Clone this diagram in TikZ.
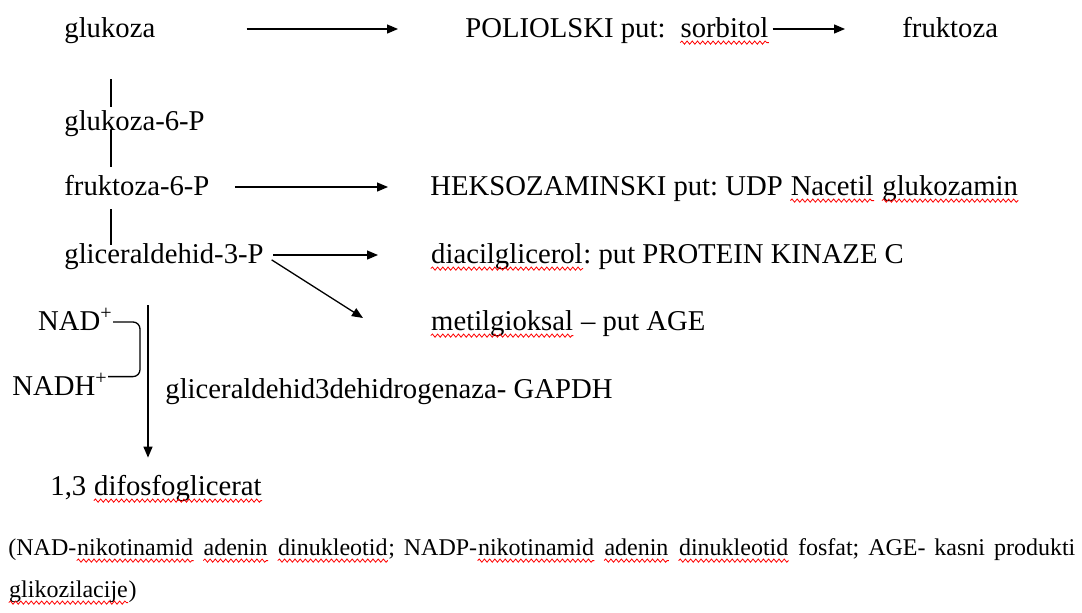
\documentclass[tikz,border=0pt]{standalone}
\usepackage{fontspec}
\setmainfont{Liberation Serif}
\usetikzlibrary{arrows.meta, decorations.pathmorphing}
\frenchspacing

% red wavy underline
\newcommand\spell[1]{\tikz[baseline=(w.base)]{\node[inner sep=0pt, anchor=base, text height=, text depth=] (w) {#1};
    \draw[red, line width=0.4pt, decorate, decoration={snake, amplitude=0.8pt, segment length=2.6pt}]
    ([yshift=-2.8pt]w.base west) -- ([yshift=-2.8pt]w.base east);}}

\tikzset{
    txt/.style={inner sep=0pt, anchor=base west, text height=11pt, text depth=3pt,
        font=\fontsize{14.35}{17}\selectfont},
    note/.style={inner sep=0pt, anchor=base west, font=\fontsize{12}{14}\selectfont},
    stem/.style={line width=0.65pt},
    pth/.style={-{Triangle[length=5.5pt,width=4.5pt]}}
}

\begin{document}
\begin{tikzpicture}[x=0.5pt, y=-0.5pt]
                        \useasboundingbox (0,0) rectangle (1082,612);
                        \node[txt] (glu) at (64,37) {glukoza};
                        \node[txt] (pol) at (465,37) {POLIOLSKI put:~ \spell{sorbitol}};
                        \node[txt] (fru) at (902,37) {fruktoza};
                        \node[txt] (glu6) at (64,130) {glukoza-6-P};
                        \node[txt] (fru6) at (64,195) {fruktoza-6-P};
                        \node[txt] (heks) at (430,195) {HEKSOZAMINSKI put: UDP \spell{Nacetil} \spell{glukozamin}};
                        \node[txt] (gli3) at (64,263) {gliceraldehid-3-P};
                        \node[txt] (diac) at (430,263) {\spell{diacilglicerol}: put PROTEIN KINAZE C};
                        \node[txt] (met) at (430,330) {\spell{metilgioksal} -- put AGE};
                        \coordinate (metin) at (363,318);
                        \node[txt, anchor=base east] (nad) at (113,330) {NAD\textsuperscript{+}};
                        \node[txt, anchor=base east] (nadh) at (108,395) {NADH\textsuperscript{+}};
                        \node[txt] (gapdh) at (165,398) {gliceraldehid3dehidrogenaza- GAPDH};
                        \node[txt] (dif) at (50,495) {1,3 \spell{difosfoglicerat}};
                        \node[note] (note1) at (8,555) {\makebox[533.5pt][s]{(NAD-\spell{nikotinamid} \spell{adenin} \spell{dinukleotid}; NADP-\spell{nikotinamid} \spell{adenin} \spell{dinukleotid} fosfat; AGE- kasni produkti}};
                        \node[note] (note2) at (8,597) {\spell{glikozilacije})};
                        \draw[stem]
                        (glu.east) edge[pth, shorten <=45.5pt, shorten >=33.5pt] (pol.west)
                        (pol.east) edge[pth, shorten <=1.5pt, shorten >=28.5pt] (fru.west)
                        (fru6.east) edge[pth, shorten <=12.5pt, shorten >=21pt] (heks.west)
                        (gli3.east) edge[pth, shorten <=4.5pt, shorten >=26pt] (diac.west)
                        (gli3.east) edge[pth, shorten <=4.5pt] (metin)
                        ([xshift=42pt]gli3.south west) edge[pth, shorten <=18pt, shorten >=7.5pt] ([xshift=49pt]dif.north west)
                        ([xshift=23.5pt]glu.south west) edge[shorten <=18pt, shorten >=0.5pt] ([xshift=23.5pt]glu6.north west)
                        ([xshift=23.5pt]glu6.base west) edge[shorten >=3pt] ([xshift=23.5pt]fru6.north west)
                        ([xshift=23.5pt]fru6.south west) edge[shorten <=4pt, shorten >=-2pt] ([xshift=23.5pt]gli3.north west);
                        \draw[stem, rounded corners=3.5pt] (nad.east) -- ++(13.5pt,0) |- ([yshift=-2pt]nadh.north east);
                    \end{tikzpicture}
\end{document}
